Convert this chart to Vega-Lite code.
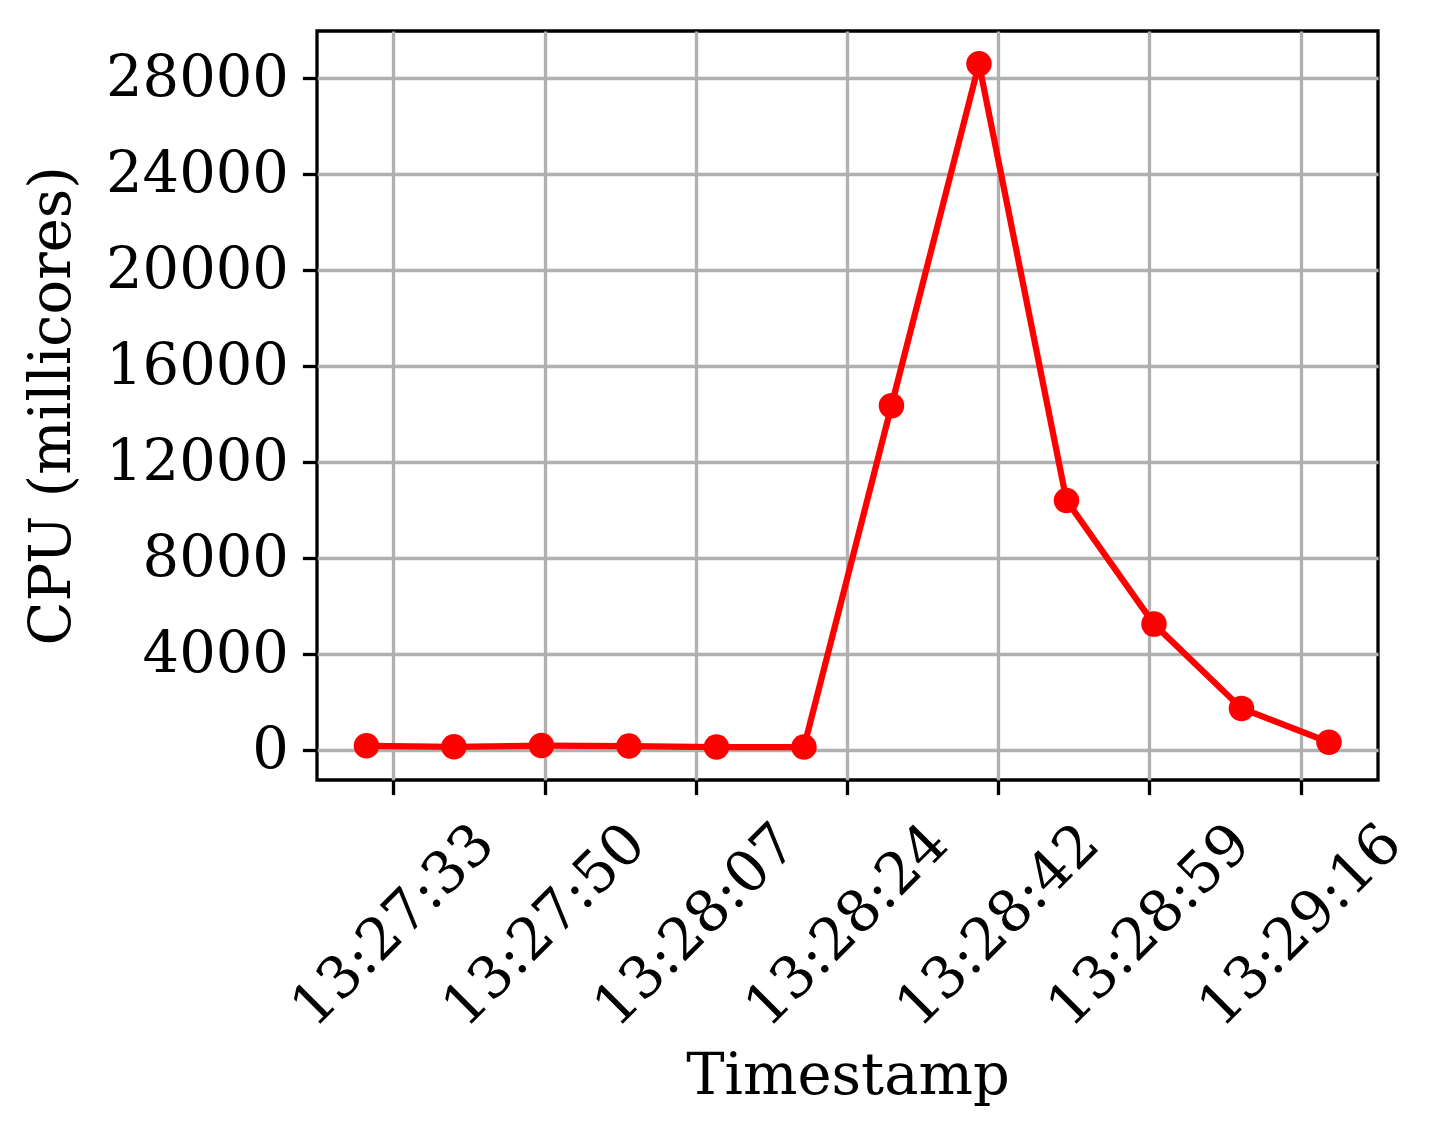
{
  "$schema": "https://vega.github.io/schema/vega-lite/v6.json",
  "width": 1061,
  "height": 749,
  "autosize": {"type": "none"},
  "padding": {"left": 317, "top": 31, "right": 65, "bottom": 357},
  "background": "white",
  "config": {
    "view": {"stroke": "black", "strokeWidth": 3.3},
    "font": "DejaVu Serif",
    "axis": {
      "labelFont": "DejaVu Serif",
      "labelFontSize": 57.5,
      "labelColor": "black",
      "labelLimit": 0,
      "titleFont": "DejaVu Serif",
      "titleFontSize": 57.5,
      "titleFontWeight": "normal",
      "titleColor": "black",
      "domain": false,
      "tickColor": "black",
      "tickWidth": 3.3,
      "tickSize": 14.6,
      "gridColor": "#b0b0b0",
      "gridWidth": 3.3,
      "gridOpacity": 1,
      "labelOverlap": false,
      "labelFlush": false
    }
  },
  "data": {
    "values": [
      {"time": "2024-01-01T13:27:30", "cpu": 190},
      {"time": "2024-01-01T13:27:40", "cpu": 150},
      {"time": "2024-01-01T13:27:50", "cpu": 200},
      {"time": "2024-01-01T13:28:00", "cpu": 180},
      {"time": "2024-01-01T13:28:10", "cpu": 140},
      {"time": "2024-01-01T13:28:20", "cpu": 140},
      {"time": "2024-01-01T13:28:30", "cpu": 14360},
      {"time": "2024-01-01T13:28:40", "cpu": 28600},
      {"time": "2024-01-01T13:28:50", "cpu": 10410},
      {"time": "2024-01-01T13:29:00", "cpu": 5260},
      {"time": "2024-01-01T13:29:10", "cpu": 1750},
      {"time": "2024-01-01T13:29:20", "cpu": 340}
    ]
  },
  "encoding": {
    "x": {
      "field": "time",
      "type": "temporal",
      "title": "Timestamp",
      "scale": {
        "domain": [
          {"year": 2024, "month": 1, "date": 1, "hours": 13, "minutes": 27, "seconds": 24, "milliseconds": 350},
          {"year": 2024, "month": 1, "date": 1, "hours": 13, "minutes": 29, "seconds": 25, "milliseconds": 600}
        ],
        "nice": false
      },
      "axis": {
        "values": [
          {"year": 2024, "month": 1, "date": 1, "hours": 13, "minutes": 27, "seconds": 33, "milliseconds": 80},
          {"year": 2024, "month": 1, "date": 1, "hours": 13, "minutes": 27, "seconds": 50, "milliseconds": 360},
          {"year": 2024, "month": 1, "date": 1, "hours": 13, "minutes": 28, "seconds": 7, "milliseconds": 640},
          {"year": 2024, "month": 1, "date": 1, "hours": 13, "minutes": 28, "seconds": 24, "milliseconds": 920},
          {"year": 2024, "month": 1, "date": 1, "hours": 13, "minutes": 28, "seconds": 42, "milliseconds": 200},
          {"year": 2024, "month": 1, "date": 1, "hours": 13, "minutes": 28, "seconds": 59, "milliseconds": 480},
          {"year": 2024, "month": 1, "date": 1, "hours": 13, "minutes": 29, "seconds": 16, "milliseconds": 760}
        ],
        "format": "%H:%M:%S",
        "labelAngle": -45,
        "labelAlign": "center",
        "labelBaseline": "middle",
        "labelPadding": 131,
        "titlePadding": 68
      }
    },
    "y": {
      "field": "cpu",
      "type": "quantitative",
      "title": "CPU (millicores)",
      "scale": {"domain": [-1233, 29964], "nice": false, "zero": false},
      "axis": {
        "values": [0, 4000, 8000, 12000, 16000, 20000, 24000, 28000],
        "format": "d",
        "labelPadding": 14,
        "titlePadding": 36
      }
    }
  },
  "layer": [
    {"mark": {"type": "line", "color": "#ff0000", "strokeWidth": 6.25}},
    {"mark": {"type": "point", "filled": true, "color": "#ff0000", "opacity": 1, "size": 650}}
  ]
}
